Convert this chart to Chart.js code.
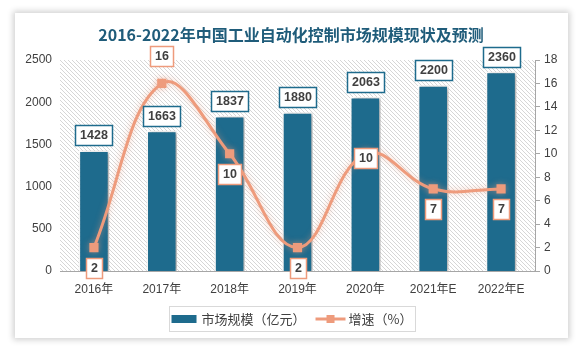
<!DOCTYPE html>
<html><head><meta charset="utf-8">
<script src="https://cdn.jsdelivr.net/npm/chart.js@4/dist/chart.umd.min.js"></script>
<style>
html,body{margin:0;padding:0;background:#fff;}
#wrap{position:relative;width:583px;height:352px;overflow:hidden;}
#card{position:absolute;left:15px;top:13px;width:553px;height:325px;background:#fff;box-shadow:0 0 6px 2px rgba(0,0,0,0.18);}
canvas{position:absolute;left:0;top:0;}
</style></head><body>
<div id="wrap"><div id="card"></div><canvas id="c" width="583" height="352"></canvas></div>
<script>
const chartTitle = '2016-2022年中国工业自动化控制市场规模现状及预测';
const categories = ['2016年','2017年','2018年','2019年','2020年','2021年E','2022年E'];
const marketSize = [1428,1663,1837,1880,2063,2200,2360];
const growthRate = [2,16,10,2,10,7,7];
const leftTicks = [0,500,1000,1500,2000,2500];
const rightTicks = [0,2,4,6,8,10,12,14,16,18];
const seriesNames = ['市场规模（亿元）','增速（%）'];

const BAR_COLOR = '#1E6B8D';
const LINE_COLOR = '#EE9B7C';
const TEXT_COLOR = '#404040';
const lineLabelDy = [20,-27,20,20,4,20,20];
const numFont = 'bold 12.5px "Liberation Sans", Arial, sans-serif';

function drawBox(ctx, text, cx, cy, border){
  ctx.save();
  ctx.font = numFont;
  const w = Math.round(ctx.measureText(text).width + 9);
  const h = 20;
  const x = Math.round(cx - w/2) + 0.5, y = Math.round(cy - h/2) + 0.5;
  ctx.fillStyle = '#fff';
  ctx.fillRect(x, y, w, h);
  ctx.lineWidth = 1.5;
  ctx.strokeStyle = border;
  ctx.strokeRect(x, y, w, h);
  ctx.fillStyle = TEXT_COLOR;
  ctx.textAlign = 'center';
  ctx.textBaseline = 'middle';
  ctx.fillText(text, x + w/2, y + h/2 + 0.5);
  ctx.restore();
}

function makePattern(ctx){
  const p = document.createElement('canvas');
  p.width = 4; p.height = 4;
  const g = p.getContext('2d');
  g.fillStyle = '#fff'; g.fillRect(0,0,4,4);
  g.strokeStyle = '#d6d6d6'; g.lineWidth = 1;
  g.beginPath();
  g.moveTo(-1,-1); g.lineTo(5,5);
  g.moveTo(-1,3); g.lineTo(1,5);
  g.moveTo(3,-1); g.lineTo(5,1);
  g.stroke();
  return ctx.createPattern(p, 'repeat');
}

const decoPlugin = {
  id: 'deco',
  beforeDraw(chart){
    const {ctx, chartArea:a} = chart;
    ctx.save();
    ctx.fillStyle = makePattern(ctx);
    ctx.fillRect(a.left, a.top, a.right - a.left, a.bottom - a.top);
    ctx.restore();
  },
  beforeDatasetDraw(chart, args){
    const ctx = chart.ctx;
    ctx.save();
    if (args.index === 0){
      ctx.shadowColor = 'rgba(0,0,0,0.35)';
      ctx.shadowBlur = 4; ctx.shadowOffsetX = 2; ctx.shadowOffsetY = 1;
    } else {
      ctx.shadowColor = 'rgba(238,155,124,0.55)';
      ctx.shadowBlur = 6;
    }
  },
  afterDatasetDraw(chart){ chart.ctx.restore(); },
  afterDatasetsDraw(chart){
    const ctx = chart.ctx;
    chart.getDatasetMeta(0).data.forEach((el,i)=>{
      drawBox(ctx, String(marketSize[i]), el.x, el.y - 15, BAR_COLOR);
    });
    chart.getDatasetMeta(1).data.forEach((el,i)=>{
      drawBox(ctx, String(growthRate[i]), el.x, el.y + lineLabelDy[i], LINE_COLOR);
    });
  },
  afterDraw(chart){
    const ctx = chart.ctx;
    ctx.save();
    // title
    ctx.font = 'bold 16px "Noto Sans CJK SC", sans-serif';
    ctx.fillStyle = '#1F5C7A';
    ctx.textAlign = 'center'; ctx.textBaseline = 'middle';
    ctx.fillText(chartTitle, 291, 35);
    // legend
    ctx.font = '13px "Noto Sans CJK SC", sans-serif';
    ctx.textAlign = 'left';
    const ly = 319;
    const t1w = ctx.measureText(seriesNames[0]).width;
    const t2w = ctx.measureText(seriesNames[1]).width;
    const total = 25 + 5 + t1w + 10 + 30 + 3 + t2w;
    const bx = 169, bw = 246;
    let x = bx + (bw - total)/2;
    ctx.strokeStyle = '#d9d9d9'; ctx.lineWidth = 1;
    ctx.strokeRect(bx + 0.5, 306.5, bw, 25);
    ctx.fillStyle = BAR_COLOR;
    ctx.fillRect(x, ly - 4, 25, 8);
    x += 30;
    ctx.fillStyle = TEXT_COLOR;
    ctx.fillText(seriesNames[0], x, ly);
    x += t1w + 10;
    ctx.strokeStyle = LINE_COLOR; ctx.lineWidth = 3;
    ctx.beginPath(); ctx.moveTo(x, ly); ctx.lineTo(x + 30, ly); ctx.stroke();
    ctx.fillStyle = LINE_COLOR;
    ctx.fillRect(x + 11, ly - 4, 8, 8);
    x += 33;
    ctx.fillStyle = TEXT_COLOR;
    ctx.fillText(seriesNames[1], x, ly);
    ctx.restore();
  }
};

const tickFont = {family: '"Liberation Sans", "Noto Sans CJK SC", sans-serif', size: 12};
const plain = v => String(v);

new Chart(document.getElementById('c'), {
  type: 'bar',
  data: {
    labels: categories,
    datasets: [
      {
        type: 'bar', label: seriesNames[0], data: marketSize, yAxisID: 'y',
        backgroundColor: BAR_COLOR, borderColor: '#fff', borderWidth: 1.5,
        barPercentage: 0.45, categoryPercentage: 1, order: 2
      },
      {
        type: 'line', label: seriesNames[1], data: growthRate, yAxisID: 'y1',
        borderColor: LINE_COLOR, backgroundColor: LINE_COLOR, borderWidth: 3,
        tension: 0.4, pointStyle: 'rect', pointRadius: 6.5, pointBorderWidth: 0,
        pointBackgroundColor: LINE_COLOR, order: 1
      }
    ]
  },
  options: {
    responsive: false, animation: false,
    layout: {padding: {top: 60, bottom: 51, left: 0, right: 0}},
    plugins: {legend: {display: false}, title: {display: false}, tooltip: {enabled: false}},
    scales: {
      x: {
        grid: {display: false, drawTicks: false},
        border: {display: true, color: '#a6a6a6', width: 1},
        ticks: {font: tickFont, color: TEXT_COLOR, padding: 11, maxRotation: 0, autoSkip: false},
        afterFit(s){ s.height = 30; }
      },
      y: {
        position: 'left', min: 0, max: 2500,
        afterBuildTicks(s){ s.ticks = leftTicks.map(v=>({value:v})); },
        grid: {display: false, drawTicks: false},
        border: {display: false},
        ticks: {font: tickFont, color: TEXT_COLOR, padding: 8, callback: plain},
        afterFit(s){ s.width = 60; }
      },
      y1: {
        position: 'right', min: 0, max: 18,
        afterBuildTicks(s){ s.ticks = rightTicks.map(v=>({value:v})); },
        grid: {drawOnChartArea: false, color: '#a6a6a6', tickLength: 5},
        border: {display: true, color: '#a6a6a6'},
        ticks: {font: tickFont, color: TEXT_COLOR, padding: 4, callback: plain},
        afterFit(s){ s.width = 48; }
      }
    }
  },
  plugins: [decoPlugin]
});
</script>
</body></html>
